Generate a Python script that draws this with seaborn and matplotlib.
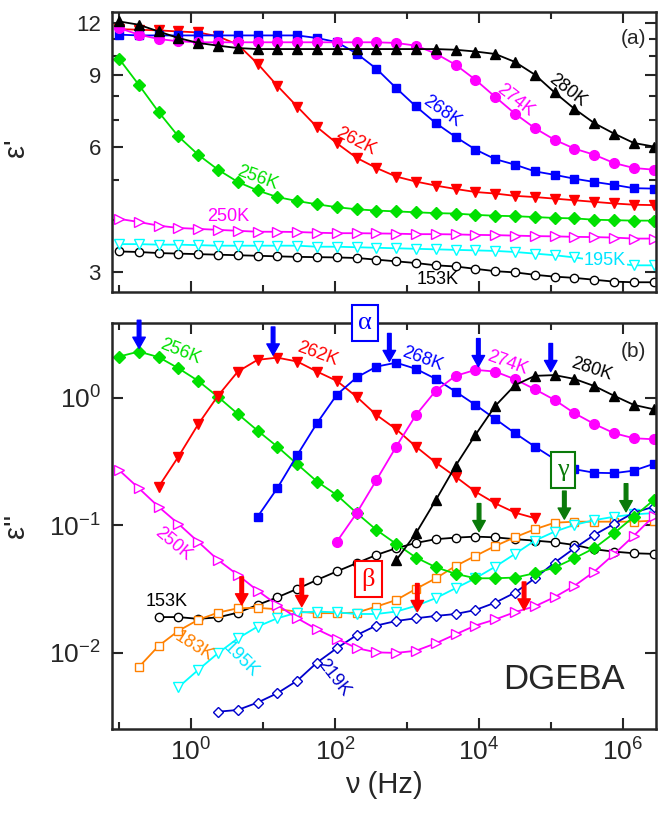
import numpy as np
import pandas as pd
import seaborn as sns
import matplotlib.pyplot as plt
from matplotlib.ticker import FixedLocator, NullFormatter, NullLocator

nan = np.nan

# measurement frequencies in Hz
freq = [0.1, 0.188, 0.355, 0.668, 1.26, 2.37, 4.47, 8.41, 15.8, 29.9, 56.2, 106, 200, 376,
        708, 1330, 2510, 4730, 8910, 16800, 31600, 59600, 112000, 211000, 398000, 750000,
        1410000, 2660000]

# eps' (panel a)
eps1_153 = [3.36, 3.35, 3.33, 3.32, 3.31, 3.30, 3.29, 3.28, 3.27, 3.26, 3.255, 3.25, 3.24, 3.21,
            3.18, 3.15, 3.11, 3.09, 3.05, 3.01, 2.99, 2.95, 2.92, 2.90, 2.87, 2.84, 2.83, 2.83]
eps1_195 = [3.50, 3.50, 3.49, 3.49, 3.48, 3.47, 3.47, 3.47, 3.47, 3.47, 3.45, 3.45, 3.44, 3.43,
            3.42, 3.41, 3.40, 3.39, 3.38, 3.37, 3.35, 3.32, 3.29, 3.25, 3.20, 3.15, 3.11, 3.11]
eps1_250 = [4.03, 3.96, 3.88, 3.83, 3.81, 3.79, 3.77, 3.75, 3.75, 3.745, 3.73, 3.72, 3.72, 3.715,
            3.71, 3.70, 3.70, 3.695, 3.685, 3.68, 3.67, 3.66, 3.655, 3.645, 3.64, 3.63, 3.61, 3.61]
eps1_256 = [9.84, 8.51, 7.31, 6.38, 5.76, 5.30, 4.95, 4.72, 4.55, 4.45, 4.37, 4.30, 4.25, 4.22,
            4.20, 4.18, 4.16, 4.15, 4.12, 4.10, 4.09, 4.07, 4.05, 4.04, 4.01, 4.00, 3.99, 3.99]
eps1_262 = [11.60, 11.56, 11.52, 11.45, 11.39, 11.14, 10.64, 9.57, 8.46, 7.53, 6.72, 6.14, 5.66,
            5.35, 5.10, 4.96, 4.85, 4.76, 4.68, 4.64, 4.58, 4.55, 4.51, 4.47, 4.43, 4.39, 4.36, 4.35]
eps1_268 = [11.25, 11.20, 11.20, 11.20, 11.20, 11.20, 11.20, 11.20, 11.20, 11.20, 11.04, 10.79,
            10.12, 9.30, 8.35, 7.54, 6.87, 6.36, 5.93, 5.62, 5.45, 5.25, 5.15, 5.04, 4.95, 4.87,
            4.78, 4.77]
eps1_274 = [11.67, 11.25, 10.98, 10.84, 10.78, 10.78, 10.78, 10.78, 10.78, 10.78, 10.78, 10.78,
            10.78, 10.78, 10.74, 10.58, 10.12, 9.51, 8.75, 7.95, 7.24, 6.68, 6.26, 5.96, 5.76,
            5.50, 5.35, 5.30]
eps1_280 = [12.11, 11.89, 11.45, 11.04, 10.74, 10.58, 10.44, 10.38, 10.38, 10.38, 10.38, 10.38,
            10.38, 10.38, 10.38, 10.38, 10.38, 10.34, 10.24, 10.10, 9.66, 9.00, 8.15, 7.44, 6.87,
            6.48, 6.15, 6.03]

# eps'' (panel b)
eps2_153 = [nan, nan, 0.0191, 0.0191, 0.0185, 0.0190, 0.0207, 0.0238, 0.0273, 0.0318, 0.0374,
            0.0436, 0.0506, 0.0587, 0.0663, 0.0729, 0.078, 0.0802, 0.0817, 0.0806, 0.078, 0.076,
            0.0738, 0.0703, 0.065, 0.0623, 0.0605, 0.0598]
eps2_183 = [nan, 0.00773, 0.01135, 0.0149, 0.0182, 0.0207, 0.0224, 0.0226, 0.022, 0.0211, 0.0205,
            0.0205, 0.0207, 0.0231, 0.026, 0.0318, 0.0385, 0.0481, 0.0577, 0.069, 0.0808, 0.0933,
            0.105, 0.107, 0.107, 0.107, 0.107, 0.109]
eps2_195 = [nan, nan, nan, 0.00538, 0.00736, 0.00995, 0.0130, 0.0161, 0.0187, 0.0207, 0.0211,
            0.0208, 0.0202, 0.0202, 0.0211, 0.0234, 0.0269, 0.0322, 0.0385, 0.0475, 0.0598, 0.076,
            0.0894, 0.101, 0.110, 0.117, 0.122, 0.125]
eps2_219 = [nan, nan, nan, nan, nan, 0.00346, 0.00357, 0.00408, 0.00483, 0.00606, 0.0084, 0.0109,
            0.0138, 0.0164, 0.0178, 0.0187, 0.0195, 0.0202, 0.0217, 0.0248, 0.0297, 0.0385,
            0.0511, 0.0662, 0.0842, 0.103, 0.126, 0.140]
eps2_250 = [0.272, 0.196, 0.140, 0.103, 0.0743, 0.0536, 0.0409, 0.0308, 0.0238, 0.0187, 0.0153,
            0.0129, 0.0109, 0.0101, 0.0100, 0.0104, 0.0119, 0.0140, 0.0164, 0.0183, 0.0209,
            0.0232, 0.0274, 0.0336, 0.0434, 0.0596, 0.083, 0.118]
eps2_256 = [2.11, 2.31, 2.09, 1.71, 1.36, 1.02, 0.749, 0.554, 0.415, 0.302, 0.221, 0.173, 0.125,
            0.0922, 0.0716, 0.0560, 0.0470, 0.0417, 0.0385, 0.0385, 0.039, 0.0422, 0.0467, 0.0553,
            0.0663, 0.0869, 0.117, 0.158]
eps2_262 = [nan, nan, 0.201, 0.346, 0.622, 1.04, 1.61, 1.99, 2.07, 1.93, 1.61, 1.36, 1.02, 0.735,
            0.568, 0.415, 0.311, 0.241, 0.184, 0.149, 0.126, 0.114, nan, nan, nan, nan, nan, nan]
eps2_268 = [nan, nan, nan, nan, nan, nan, nan, 0.117, 0.196, 0.357, 0.634, 1.06, 1.45, 1.76, 1.89,
            1.69, 1.41, 1.12, 0.882, 0.684, 0.529, 0.415, 0.331, 0.276, 0.259, 0.257, 0.269, 0.304]
eps2_274 = [nan, nan, nan, nan, nan, nan, nan, nan, nan, nan, nan, 0.0746, 0.125, 0.227, 0.415,
            0.735, 1.14, 1.49, 1.66, 1.61, 1.40, 1.17, 0.965, 0.759, 0.625, 0.529, 0.483, 0.474]
eps2_280 = [nan, nan, nan, nan, nan, nan, nan, nan, nan, nan, nan, nan, nan, nan, 0.0534, 0.0868,
            0.158, 0.294, 0.513, 0.866, 1.26, 1.49, 1.51, 1.41, 1.24, 1.04, 0.882, 0.815]

# relaxation arrows: frequency and eps'' value at the arrow tip
alpha_nu = [0.19, 13.8, 568, 9780, 99000]
alpha_tip = [2.45, 2.17, 1.93, 1.76, 1.61]
beta_nu = [5.06, 34.5, 1390, 42200]
beta_tip = [0.0238, 0.0231, 0.0211, 0.0217]
gamma_nu = [10000, 153000, 1100000]
gamma_tip = [0.0894, 0.112, 0.128]

top_series = {'153K': eps1_153, '195K': eps1_195, '250K': eps1_250, '256K': eps1_256,
              '262K': eps1_262, '268K': eps1_268, '274K': eps1_274, '280K': eps1_280}
bottom_series = {'153K': eps2_153, '183K': eps2_183, '195K': eps2_195, '219K': eps2_219,
                 '250K': eps2_250, '256K': eps2_256, '262K': eps2_262, '268K': eps2_268,
                 '274K': eps2_274, '280K': eps2_280}

green = '#00e000'
styles = {
    '153K': dict(color='black', marker='o', ms=6, filled=False),
    '183K': dict(color='#ff8000', marker='s', ms=6, filled=False),
    '195K': dict(color='#00ffff', marker='v', ms=7, filled=False),
    '219K': dict(color='#0000cc', marker='D', ms=5.5, filled=False),
    '250K': dict(color='#ff00ff', marker='>', ms=7, filled=False),
    '256K': dict(color=green, marker='D', ms=6, filled=True),
    '262K': dict(color='#ff0000', marker='v', ms=7.5, filled=True),
    '268K': dict(color='#0000ff', marker='s', ms=6, filled=True),
    '274K': dict(color='#ff00ff', marker='o', ms=7, filled=True),
    '280K': dict(color='black', marker='^', ms=7.5, filled=True),
}

sns.set_style("ticks")
plt.rcParams['font.family'] = ['Liberation Sans', 'DejaVu Sans']
plt.rcParams['mathtext.fontset'] = 'custom'
plt.rcParams['mathtext.rm'] = 'Liberation Sans'
plt.rcParams['mathtext.it'] = 'Liberation Sans:italic'

fig = plt.figure(figsize=(6.64, 8.13), dpi=100)
ax1 = fig.add_axes([0.1687, 0.6408, 0.8193, 0.3444])
ax2 = fig.add_axes([0.1687, 0.1033, 0.8193, 0.4994])


def draw(ax, series):
    for name, vals in series.items():
        st = styles[name]
        df = pd.DataFrame({'nu': freq, 'eps': vals}).dropna()
        sns.lineplot(data=df, x='nu', y='eps', ax=ax, color=st['color'], lw=1.3,
                     marker=st['marker'], markersize=st['ms'],
                     markerfacecolor=st['color'] if st['filled'] else 'white',
                     markeredgecolor=st['color'], markeredgewidth=1.0)


for ax in (ax1, ax2):
    ax.set_xscale('log')
    ax.set_yscale('log')

draw(ax1, top_series)
draw(ax2, bottom_series)

xmaj = [1e0, 1e2, 1e4, 1e6]
xmin = [1e-1, 1e1, 1e3, 1e5]
for ax in (ax1, ax2):
    ax.set_xlim(0.08, 2.87e6)
    ax.xaxis.set_major_locator(FixedLocator(xmaj))
    ax.xaxis.set_minor_locator(FixedLocator(xmin))
    ax.xaxis.set_minor_formatter(NullFormatter())
    ax.tick_params(which='both', direction='in', top=True, right=True, width=1.5)
    ax.tick_params(which='major', length=8)
    ax.tick_params(which='minor', length=5)
    for sp in ax.spines.values():
        sp.set_linewidth(1.8)
    ax.set_xlabel('')
    ax.set_ylabel('')

# panel a
ax1.set_ylim(2.68, 12.76)
ax1.yaxis.set_major_locator(FixedLocator([3, 6, 9, 12]))
ax1.yaxis.set_minor_locator(FixedLocator([4, 5, 7, 8, 10, 11]))
ax1.set_yticklabels(['3', '6', '9', '12'])
ax1.yaxis.set_minor_formatter(NullFormatter())
ax1.xaxis.set_major_formatter(NullFormatter())
ax1.tick_params(axis='y', labelsize=16, pad=8)
ax1.set_ylabel("ε'", fontsize=21)
ax1.yaxis.set_label_coords(-0.15, 0.515)

# panel b
ax2.set_ylim(0.00253, 3.87)
ax2.yaxis.set_major_locator(FixedLocator([1e-2, 1e-1, 1e0]))
ax2.yaxis.set_minor_locator(NullLocator())
ax2.tick_params(axis='both', labelsize=19)
ax2.tick_params(axis='y', pad=8)
ax2.tick_params(axis='x', pad=7)
ax2.set_ylabel("ε''", fontsize=21)
ax2.yaxis.set_label_coords(-0.15, 0.5)
ax2.set_xlabel('ν (Hz)', fontsize=21, labelpad=4)

lab = dict(fontsize=13, ha='center', va='center')
ax1.text(0.958, 0.907, '(a)', transform=ax1.transAxes, fontsize=15, ha='center', va='center')
ax1.text(0.838, 0.721, '280K', transform=ax1.transAxes, rotation=-38, color='black', **lab)
ax1.text(0.742, 0.686, '274K', transform=ax1.transAxes, rotation=-38, color='#ff00ff', **lab)
ax1.text(0.607, 0.646, '268K', transform=ax1.transAxes, rotation=-35, color='#0000ff', **lab)
ax1.text(0.449, 0.539, '262K', transform=ax1.transAxes, rotation=-27, color='#ff0000', **lab)
ax1.text(0.268, 0.407, '256K', transform=ax1.transAxes, rotation=-20, color=green, **lab)
ax1.text(0.213, 0.271, '250K', transform=ax1.transAxes, color='#ff00ff', **lab)
ax1.text(0.906, 0.111, '195K', transform=ax1.transAxes, color='#00e5ff', zorder=5,
         bbox=dict(fc='white', ec='none', pad=0.5), **lab)
ax1.text(0.599, 0.046, '153K', transform=ax1.transAxes, color='black', **lab)

ax2.text(0.958, 0.929, '(b)', transform=ax2.transAxes, fontsize=15, ha='center', va='center')
ax2.text(0.125, 0.929, '256K', transform=ax2.transAxes, rotation=-22, color=green, **lab)
ax2.text(0.377, 0.924, '262K', transform=ax2.transAxes, rotation=-20, color='#ff0000', **lab)
ax2.text(0.570, 0.911, '268K', transform=ax2.transAxes, rotation=-20, color='#0000ff', **lab)
ax2.text(0.726, 0.901, '274K', transform=ax2.transAxes, rotation=-20, color='#ff00ff', **lab)
ax2.text(0.882, 0.887, '280K', transform=ax2.transAxes, rotation=-18, color='black', **lab)
ax2.text(0.112, 0.455, '250K', transform=ax2.transAxes, rotation=-40, color='#ff00ff', **lab)
ax2.text(0.101, 0.313, '153K', transform=ax2.transAxes, color='black', **lab)
ax2.text(0.150, 0.203, '183K', transform=ax2.transAxes, rotation=-32, color='#ff8000', **lab)
ax2.text(0.237, 0.170, '195K', transform=ax2.transAxes, rotation=-45, color='#00e5ff', **lab)
ax2.text(0.407, 0.127, '219K', transform=ax2.transAxes, rotation=-52, color='#0000cc', **lab)
ax2.text(0.831, 0.121, 'DGEBA', transform=ax2.transAxes, fontsize=25, ha='center', va='center')

greek = dict(fontsize=19, ha='center', va='center', family=['Liberation Serif', 'DejaVu Serif'],
             transform=ax2.transAxes, zorder=6, clip_on=False)
ax2.text(0.465, 1.0, 'α', color='#0000ff',
         bbox=dict(boxstyle='square,pad=0.25', fc='white', ec='#0000ff', lw=1.5), **greek)
ax2.text(0.829, 0.638, 'γ', color='#0a7a0a',
         bbox=dict(boxstyle='square,pad=0.25', fc='white', ec='#0a7a0a', lw=1.5), **greek)
ax2.text(0.471, 0.369, 'β', color='#ff0000',
         bbox=dict(boxstyle='square,pad=0.25', fc='white', ec='#ff0000', lw=1.5), **greek)

# peak arrows, constant length in log space
arrow_len = 1.66
for nus, tips, col in [(alpha_nu, alpha_tip, '#0000ff'), (beta_nu, beta_tip, '#ff0000'),
                       (gamma_nu, gamma_tip, '#0a7a0a')]:
    for nu, tip in zip(nus, tips):
        ax2.annotate('', xy=(nu, tip), xytext=(nu, tip * arrow_len), annotation_clip=False,
                     arrowprops=dict(facecolor=col, edgecolor=col, width=2.6, headwidth=9,
                                     headlength=8, shrink=0))

fig.savefig('out.png', dpi=100)
